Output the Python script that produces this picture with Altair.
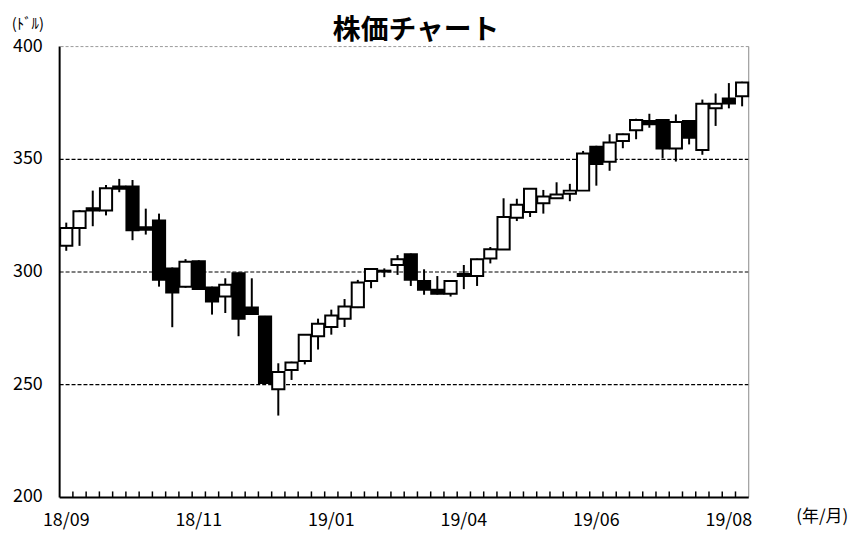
import altair as alt
import pandas as pd

# ---- data (weekly candlesticks, USD) ----
week = list(range(52))
opens = [311.6, 319.5, 328.3, 327.3, 337.9, 337.9, 319.8, 322.9, 301.6, 293.5,
         304.8, 293.1, 289.1, 299.4, 284.3, 280.3, 248.0, 256.5, 260.5, 271.5,
         275.6, 279.3, 284.4, 296.0, 300.6, 303.1, 307.9, 296.0, 292.1, 290.3,
         299.1, 298.2, 306.0, 310.0, 324.1, 326.6, 330.5, 332.7, 334.7, 336.1,
         355.6, 348.9, 358.1, 362.9, 367.0, 367.4, 354.8, 367.0, 354.1, 372.6,
         377.0, 378.0]
highs = [321.9, 327.5, 336.1, 338.6, 341.3, 340.8, 328.1, 325.9, 302.0, 305.7,
         305.2, 293.5, 297.2, 299.8, 297.2, 280.5, 259.5, 260.2, 272.5, 279.3,
         283.3, 288.0, 296.5, 301.6, 301.6, 307.5, 308.2, 301.2, 298.2, 296.3,
         303.1, 305.9, 311.1, 332.7, 332.5, 337.2, 336.4, 339.8, 339.1, 353.7,
         356.0, 361.1, 361.4, 368.0, 370.2, 367.7, 369.9, 367.3, 376.5, 379.2,
         383.8, 384.4]
lows = [309.4, 311.6, 320.3, 325.1, 335.4, 314.1, 316.6, 293.5, 275.5, 293.0,
        292.0, 281.1, 281.8, 271.5, 281.0, 250.5, 236.3, 252.1, 259.0, 265.6,
        272.2, 275.6, 284.0, 292.8, 297.7, 298.7, 293.8, 289.9, 290.0, 289.1,
        292.4, 293.8, 303.8, 309.8, 322.6, 324.4, 325.9, 332.5, 331.4, 336.0,
        338.3, 344.9, 354.9, 358.9, 364.0, 350.4, 349.0, 356.6, 352.0, 364.8,
        372.6, 373.5]
closes = [319.5, 326.9, 327.3, 337.1, 336.9, 318.5, 318.7, 296.5, 290.9, 304.5,
          292.4, 286.9, 294.3, 279.2, 281.4, 250.7, 255.6, 259.8, 272.2, 277.0,
          280.7, 284.7, 295.3, 301.3, 300.2, 305.6, 296.5, 292.1, 290.3, 296.0,
          298.2, 305.6, 310.1, 324.4, 329.8, 336.9, 333.5, 334.4, 336.1, 352.6,
          347.9, 357.4, 361.1, 367.4, 365.5, 354.8, 366.5, 359.6, 374.6, 374.6,
          374.8, 384.1]

label_weeks = [0, 10, 20, 30, 40, 50]
x_labels = ["18/09", "18/11", "19/01", "19/04", "19/06", "19/08"]
y_ticks = [200, 250, 300, 350, 400]
grid_vals = [250, 300, 350]
top_val = [400]
tick_weeks = list(range(1, 52))

title_text = "株価チャート"
y_unit = "(ﾄﾞﾙ)"
x_unit = "(年/月)"

FONT = "Noto Sans CJK JP"
W, H = 694, 454
N = len(week)

df = pd.DataFrame({"week": week, "open": opens, "high": highs,
                   "low": lows, "close": closes})

xs = alt.Scale(domain=[0, N], nice=False, zero=False)
ys = alt.Scale(domain=[200, 400], nice=False, zero=False)

grid = alt.Chart(pd.DataFrame({"v": grid_vals})).mark_rule(
    color="black", strokeDash=[4, 2], strokeWidth=1.2
).encode(y=alt.Y("v:Q", scale=ys, axis=None))

top = alt.Chart(pd.DataFrame({"v": top_val})).mark_rule(
    color="#999999", strokeDash=[3, 2], strokeWidth=1
).encode(y=alt.Y("v:Q", scale=ys, axis=None))

right = alt.Chart(pd.DataFrame({"x": [N]})).mark_rule(
    color="#888888", strokeWidth=1
).encode(x=alt.X("x:Q", scale=xs, axis=None))

left_axis = alt.Chart(pd.DataFrame({"x": [0]})).mark_rule(
    color="black", strokeWidth=2
).encode(x=alt.X("x:Q", scale=xs, axis=None))

bottom_axis = alt.Chart(pd.DataFrame({"v": [200]})).mark_rule(
    color="black", strokeWidth=2
).encode(y=alt.Y("v:Q", scale=ys, axis=None))

ticks = alt.Chart(pd.DataFrame({"t": tick_weeks})).mark_rule(
    color="black", strokeWidth=1.5
).encode(x=alt.X("t:Q", scale=xs, axis=None), y=alt.value(H), y2=alt.value(H - 6))

wicks = alt.Chart(df).transform_calculate(
    xc="datum.week + 0.5"
).mark_rule(color="black", strokeWidth=2).encode(
    x=alt.X("xc:Q", scale=xs, axis=None),
    y=alt.Y("low:Q", scale=ys, axis=None),
    y2="high:Q",
)

bodies = alt.Chart(df).transform_calculate(
    x0="datum.week + 0.04", x1="datum.week + 0.96",
    lo="min(datum.open, datum.close)", hi="max(datum.open, datum.close)",
).mark_bar(stroke="black", strokeWidth=2).encode(
    x=alt.X("x0:Q", scale=xs, axis=None),
    x2="x1:Q",
    y=alt.Y("lo:Q", scale=ys, axis=None),
    y2="hi:Q",
    fill=alt.condition("datum.close >= datum.open", alt.value("white"), alt.value("black")),
)

ylabels = alt.Chart(pd.DataFrame({"v": y_ticks})).mark_text(
    font=FONT, fontSize=18, color="black", align="right", baseline="middle"
).encode(y=alt.Y("v:Q", scale=ys, axis=None), x=alt.value(-17), text="v:Q")

xlabels = alt.Chart(pd.DataFrame({"w": label_weeks, "lab": x_labels})).transform_calculate(
    xc="datum.w + 0.5"
).mark_text(
    font=FONT, fontSize=18, color="black", align="center", baseline="middle"
).encode(x=alt.X("xc:Q", scale=xs, axis=None), y=alt.value(H + 24), text="lab:N")

title = alt.Chart(pd.DataFrame({"t": [title_text]})).mark_text(
    font=FONT, fontSize=28, fontWeight="bold", color="black",
    align="center", baseline="middle"
).encode(text="t:N", x=alt.value(359), y=alt.value(-16))

yunit = alt.Chart(pd.DataFrame({"t": [y_unit]})).mark_text(
    font=FONT, fontSize=15, color="black", align="center", baseline="middle"
).encode(text="t:N", x=alt.value(-32), y=alt.value(-23))

xunit = alt.Chart(pd.DataFrame({"t": [x_unit]})).mark_text(
    font=FONT, fontSize=17, color="black", align="center", baseline="middle"
).encode(text="t:N", x=alt.value(768), y=alt.value(H + 20))

chart = alt.layer(
    grid, top, right, ticks, wicks, bodies, left_axis, bottom_axis,
    ylabels, xlabels, title, yunit, xunit
).properties(
    width=W, height=H,
    autosize=alt.AutoSizeParams(type="none"),
    padding={"left": 52, "top": 37, "right": 106, "bottom": 34},
).configure_view(stroke=None)

chart.save("out.html", embed_options={"renderer": "svg", "actions": False})
